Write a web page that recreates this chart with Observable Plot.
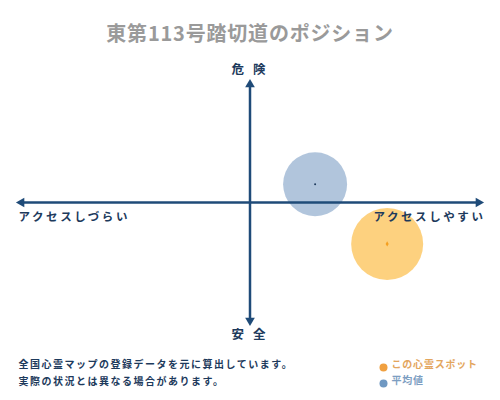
<!DOCTYPE html>
<html>
<head>
<meta charset="utf-8">
<script src="https://cdn.jsdelivr.net/npm/d3@7"></script>
<script src="https://cdn.jsdelivr.net/npm/@observablehq/plot@0.6"></script>
<style>
  html, body { margin: 0; padding: 0; background: #fff; }
  #chart svg { display: block; }
</style>
</head>
<body>
<div id="chart"></div>
<script>
// ---- data ----
const title = "東第113号踏切道のポジション";
const seriesNames = ["この心霊スポット", "平均値"];
const accessValues = [59, 28];     // x: アクセスしづらい(-) … アクセスしやすい(+)
const dangerValues = [-34, 15];    // y: 安全(-) … 危険(+)
const axisExtent = [-100, 100];
const axisLabels = { top: "危 険", bottom: "安 全", left: "アクセスしづらい", right: "アクセスしやすい" };
const notes = ["全国心霊マップの登録データを元に算出しています。", "実際の状況とは異なる場合があります。"];

const points = seriesNames.map((name, i) => ({ name, x: accessValues[i], y: dangerValues[i] }));
const spot = points.filter(d => d.name === seriesNames[0]);
const avg = points.filter(d => d.name === seriesNames[1]);

const font = "'Noto Sans CJK JP', 'Noto Sans', sans-serif";
const navy = "#1f4b78";
const textNavy = "#1d3a5c";

const heads = [
  { x: axisExtent[0], y: 0, rot: -90, dx: 4, dy: 0 },
  { x: axisExtent[1], y: 0, rot: 90, dx: -4, dy: 0 },
  { x: 0, y: axisExtent[1], rot: 0, dx: 0, dy: 4 },
  { x: 0, y: axisExtent[0], rot: 180, dx: 0, dy: -4 }
];

const chart = Plot.plot({
  width: 500,
  height: 400,
  marginLeft: 17,
  marginRight: 18,
  marginTop: 80,
  marginBottom: 76,
  x: { domain: axisExtent, axis: null },
  y: { domain: axisExtent, axis: null },
  style: { fontFamily: font, background: "#fff" },
  marks: [
    // bubbles
    Plot.dot(avg, { x: "x", y: "y", r: 32, fill: "#adc2da", fillOpacity: 0.95 }),
    Plot.dot(spot, { x: "x", y: "y", r: 36, fill: "#fdcf78", fillOpacity: 0.95 }),
    // axes
    Plot.ruleY([0], { stroke: navy, strokeWidth: 2.5, insetLeft: 3, insetRight: 3 }),
    Plot.ruleX([0], { stroke: navy, strokeWidth: 2.5, insetTop: 3, insetBottom: 3 }),
    ...heads.map(h => Plot.dot([h], { x: "x", y: "y", symbol: "triangle", r: 3.6, fill: navy, rotate: h.rot, dx: h.dx, dy: h.dy })),
    // centre markers
    Plot.dot(avg, { x: "x", y: "y", r: 1, fill: "#1d3a5c" }),
    Plot.dot(spot, { x: "x", y: "y", r: 1.6, fill: "#f5a020", symbol: "diamond" }),
    // title
    Plot.text([title], { frameAnchor: "top", dy: -54, fontSize: 20, fontWeight: "bold", fill: "#9a9a9a" }),
    // axis labels
    Plot.text([axisLabels.top], { frameAnchor: "top", dy: -15, fontSize: 12.5, fontWeight: "bold", fill: textNavy }),
    Plot.text([axisLabels.bottom], { frameAnchor: "bottom", dy: 14, fontSize: 12.5, fontWeight: "bold", fill: textNavy }),
    Plot.text([axisLabels.left], { frameAnchor: "left", textAnchor: "start", dx: 1, dy: 15, fontSize: 11.5, fontWeight: "bold", fill: textNavy }),
    Plot.text([axisLabels.right], { frameAnchor: "right", textAnchor: "end", dx: 3, dy: 15, fontSize: 11.5, fontWeight: "bold", fill: textNavy }),
    // notes
    Plot.text([notes[0]], { frameAnchor: "bottom-left", textAnchor: "start", dx: 1, dy: 43, fontSize: 10, fontWeight: "bold", fill: textNavy }),
    Plot.text([notes[1]], { frameAnchor: "bottom-left", textAnchor: "start", dx: 1, dy: 60, fontSize: 10, fontWeight: "bold", fill: textNavy }),
    // legend
    Plot.dot([seriesNames[0]], { frameAnchor: "bottom-left", dx: 366, dy: 43, r: 4, fill: "#f0a040" }),
    Plot.text([seriesNames[0]], { frameAnchor: "bottom-left", textAnchor: "start", dx: 374, dy: 43, fontSize: 10, fontWeight: "bold", fill: "#e3a65e" }),
    Plot.dot([seriesNames[1]], { frameAnchor: "bottom-left", dx: 366, dy: 59, r: 4, fill: "#6f98c2" }),
    Plot.text([seriesNames[1]], { frameAnchor: "bottom-left", textAnchor: "start", dx: 374, dy: 59, fontSize: 10, fontWeight: "bold", fill: "#7d9ec2" })
  ]
});

// letter spacing (not a Plot text option), applied by text content
const spacing = new Map([
  [title, 0.8],
  [axisLabels.top, 3],
  [axisLabels.bottom, 3],
  [axisLabels.left, 2.6],
  [axisLabels.right, 2.6],
  [notes[0], 1.5],
  [notes[1], 1.5],
  [seriesNames[0], 0.8],
  [seriesNames[1], 0.8]
]);
d3.select(chart).selectAll("text").each(function () {
  const s = spacing.get(this.textContent);
  if (s != null) this.setAttribute("letter-spacing", s);
});

document.getElementById("chart").appendChild(chart);
</script>
</body>
</html>
